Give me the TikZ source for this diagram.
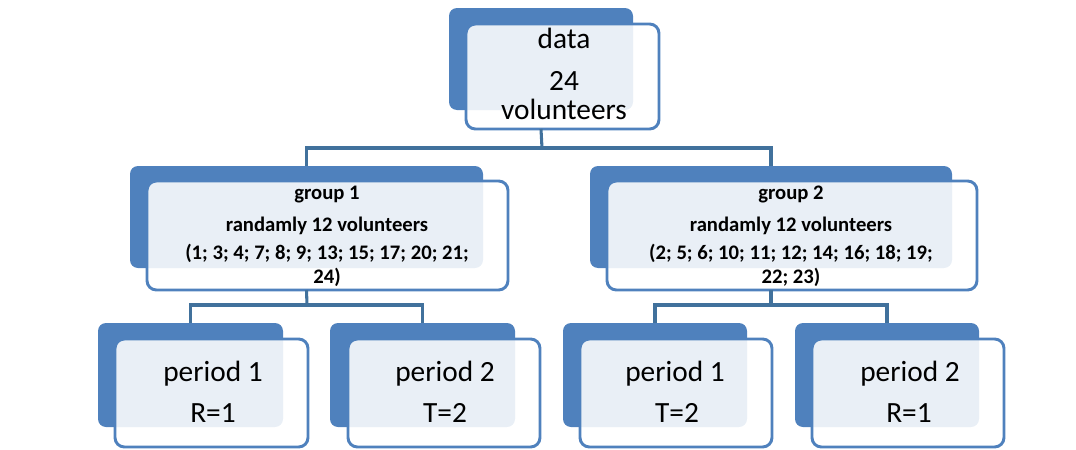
\documentclass[tikz,border=0pt]{standalone}
\usepackage{fontspec}
\setmainfont{Carlito}
\definecolor{bbl}{HTML}{4F81BD}
\definecolor{lnc}{HTML}{41719C}
\tikzset{
  backbox/.style={fill=bbl, draw=none, rounded corners=6pt, inner sep=0pt, outer sep=0pt},
  frontbox/.style={draw=bbl, line width=2.2pt, fill=white, fill opacity=0.88, rounded corners=7pt, inner sep=0pt, outer sep=0pt},
  conn/.style={draw=lnc, line width=2.3pt},
  bigtxt/.style={anchor=base, font=\fontsize{22}{26}\selectfont, text=black, inner sep=0pt},
  grptxt/.style={anchor=base, font=\fontsize{15.5}{18}\selectfont\bfseries, text=black, inner sep=0pt},
}
\newcommand{\mkbox}[6]{%
  \node[#1, minimum width={(#5-#3)*0.75pt}, minimum height={(#6-#4)*0.75pt}] (#2) at ({(#3+#5)/2},{(#4+#6)/2}) {};}
\begin{document}
\begin{tikzpicture}[x=0.75pt,y=-0.75pt]
\useasboundingbox (0,0) rectangle (1076,450);
% ---- top
\mkbox{backbox}{topB}{449}{8}{633}{110}
% ---- groups (back)
\mkbox{backbox}{g1B}{130}{166}{483}{268}
\mkbox{backbox}{g2B}{590}{166}{952}{268}
% ---- periods (back)
\mkbox{backbox}{p11B}{98}{323}{283}{427}
\mkbox{backbox}{p12B}{330}{323}{515}{427}
\mkbox{backbox}{p21B}{563}{323}{747}{427}
\mkbox{backbox}{p22B}{795}{323}{979}{427}
% front boxes
\mkbox{frontbox}{topF}{466}{24}{659}{129}
\mkbox{frontbox}{g1F}{147}{181}{508}{290}
\mkbox{frontbox}{g2F}{607}{181}{977}{290}
\mkbox{frontbox}{p11F}{115}{339}{308}{447}
\mkbox{frontbox}{p12F}{348}{339}{540}{447}
\mkbox{frontbox}{p21F}{580}{339}{772}{447}
\mkbox{frontbox}{p22F}{812}{339}{1004}{447}
% connectors
\coordinate (j0) at (542,148);
\coordinate (j1) at (307,305);
\coordinate (j2) at (771,305);
\draw[conn] (topB.south |- topF.south) -- (j0);
\draw[conn] (g1B.north) |- (j0) -| (g2B.north);
\draw[conn] (g1B.south |- g1F.south) -- (j1);
\draw[conn] (p11B.north) |- (j1) -| (p12B.north);
\draw[conn] (g2B.south |- g2F.south) -- (j2);
\draw[conn] (p21B.north) |- (j2) -| (p22B.north);
% texts
\node[bigtxt] (t1) at (564,48) {data};
\node[bigtxt] (t2) at (564,90) {24};
\node[bigtxt] (t3) at (564,119) {volunteers};
\node[grptxt] (g1a) at (327,199) {group 1};
\node[grptxt] (g1b) at (327,231) {randamly 12 volunteers};
\node[grptxt] (g1c) at (327,259) {(1; 3; 4; 7; 8; 9; 13; 15; 17; 20; 21;};
\node[grptxt] (g1d) at (327,283) {24)};
\node[grptxt] (g2a) at (791,199) {group 2};
\node[grptxt] (g2b) at (791,231) {randamly 12 volunteers};
\node[grptxt] (g2c) at (791,259) {(2; 5; 6; 10; 11; 12; 14; 16; 18; 19;};
\node[grptxt] (g2d) at (791,283) {22; 23)};
\node[bigtxt] (p11a) at (213,381) {period 1};
\node[bigtxt] (p11b) at (213,422) {R=1};
\node[bigtxt] (p12a) at (445,381) {period 2};
\node[bigtxt] (p12b) at (445,422) {T=2};
\node[bigtxt] (p21a) at (675,381) {period 1};
\node[bigtxt] (p21b) at (677,422) {T=2};
\node[bigtxt] (p22a) at (910,381) {period 2};
\node[bigtxt] (p22b) at (909,422) {R=1};
\end{tikzpicture}
\end{document}
